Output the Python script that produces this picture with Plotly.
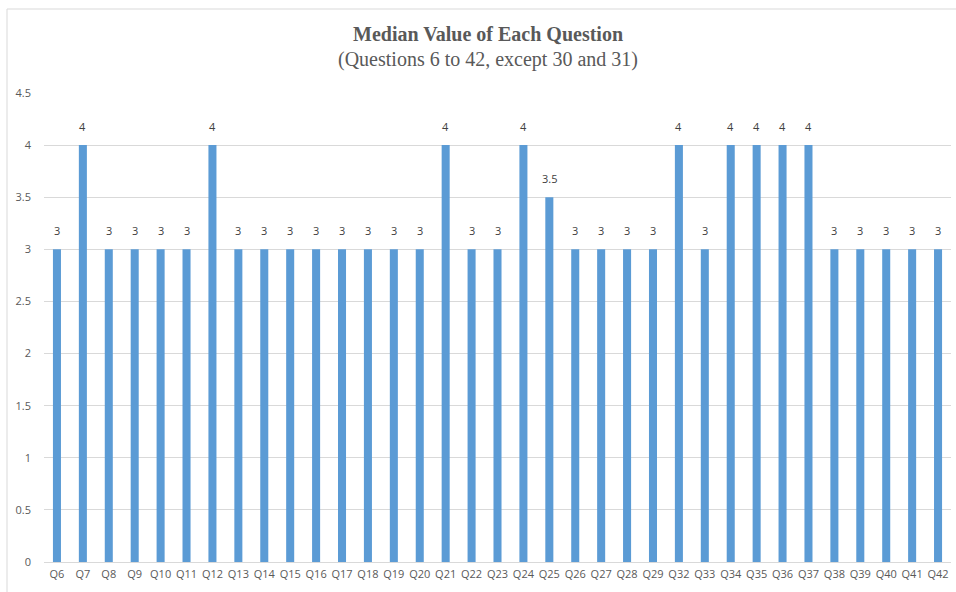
import plotly.graph_objects as go

categories = ["Q6", "Q7", "Q8", "Q9", "Q10", "Q11", "Q12", "Q13", "Q14", "Q15",
              "Q16", "Q17", "Q18", "Q19", "Q20", "Q21", "Q22", "Q23", "Q24", "Q25",
              "Q26", "Q27", "Q28", "Q29", "Q32", "Q33", "Q34", "Q35", "Q36", "Q37",
              "Q38", "Q39", "Q40", "Q41", "Q42"]
medians = [3, 4, 3, 3, 3, 3, 4, 3, 3, 3,
           3, 3, 3, 3, 3, 4, 3, 3, 4, 3.5,
           3, 3, 3, 3, 4, 3, 4, 4, 4, 4,
           3, 3, 3, 3, 3]
y_ticks = [0, 0.5, 1, 1.5, 2, 2.5, 3, 3.5, 4, 4.5]
title_main = "Median Value of Each Question"
title_sub = "(Questions 6 to 42, except 30 and 31)"

fig = go.Figure(go.Bar(
    x=categories, y=medians,
    marker=dict(color="#5B9BD5", line=dict(width=0)),
    cliponaxis=False,
))

label_annotations = [
    dict(x=c, y=v, xref="x", yref="y", text=f"{v:g}", showarrow=False,
         yanchor="bottom", xanchor="center", yshift=9,
         font=dict(family="Open Sans, Liberation Sans, sans-serif", size=11, color="#404040"))
    for c, v in zip(categories, medians)
]

fig.update_layout(
    width=956, height=592,
    margin=dict(l=44, r=5, t=93, b=30),
    paper_bgcolor="white", plot_bgcolor="white",
    bargap=0.69,
    showlegend=False,
    font=dict(family="Open Sans, Liberation Sans, sans-serif", size=11, color="#595959"),
    xaxis=dict(type="category", showgrid=False, showline=True, linecolor="#d9d9d9",
               ticks="", tickfont=dict(size=11, color="#595959"), ticklabelstandoff=2),
    yaxis=dict(range=[0, 4.5], tickvals=y_ticks, ticktext=[f"{t:g}" for t in y_ticks],
               showgrid=True, gridcolor="#d9d9d9", gridwidth=1, zeroline=False,
               showline=False, ticks="", ticklabelstandoff=12,
               tickfont=dict(size=11, color="#595959")),
    annotations=label_annotations + [
        dict(text="<b>" + title_main + "</b>", xref="paper", yref="paper",
             x=0.49, y=1 + (93 - 34) / 469, xanchor="center", yanchor="middle",
             showarrow=False, font=dict(family="Liberation Serif, Times New Roman, serif",
                                        size=20, color="#595959")),
        dict(text=title_sub, xref="paper", yref="paper",
             x=0.49, y=1 + (93 - 60) / 469, xanchor="center", yanchor="middle",
             showarrow=False, font=dict(family="Liberation Serif, Times New Roman, serif",
                                        size=20, color="#595959")),
    ],
    shapes=[
        dict(type="rect", xref="paper", yref="paper",
             x0=(7 - 44) / 907, x1=(990 - 44) / 907,
             y0=-(640 - 562) / 469, y1=1 + (93 - 9) / 469,
             line=dict(color="#d9d9d9", width=1), layer="below"),
    ],
)

fig.write_html("out.html")
